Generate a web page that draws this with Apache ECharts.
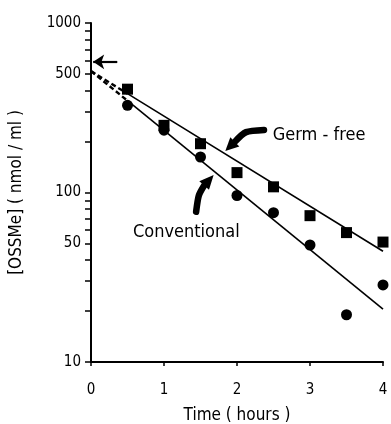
<!DOCTYPE html>
<html>
<head>
<meta charset="utf-8">
<script src="https://cdn.jsdelivr.net/npm/echarts@6/dist/echarts.min.js"></script>
<style>
html,body{margin:0;padding:0;background:#fff;}
#c{width:391px;height:424px;}
</style>
</head>
<body>
<div id="c"></div>
<script>
// ---- data ----
const times = [0.5, 1, 1.5, 2, 2.5, 3, 3.5, 4];
const germFree = [407, 249, 194, 131, 108, 73, 58, 51];
const conventional = [327, 233, 162, 96, 76, 49, 19, 28.5];
const fitTimes = [0, 0.5, 4];
const germFit = [520, 383, 45];
const convFit = [520, 348, 20.5];
const xTicks = [0, 1, 2, 3, 4];
const yLabels = [10, 50, 100, 500, 1000];
const yTicks = [10, 20, 30, 40, 50, 60, 70, 80, 90, 100, 200, 300, 400, 500, 600, 700, 800, 900, 1000];
const arrowValue = 590;
const arrowFrom = 0.36, arrowTo = 0.03;
// annotation anchors (data coords)
const germLabel = { text: 'Germ - free', x: 2.49, y: 218 };
const convLabel = { text: 'Conventional', x: 0.575, y: 58.5 };

const FONT = '"DejaVu Sans Condensed", "DejaVu Sans", sans-serif';

function pairs(xs, ys) { return xs.map((x, i) => [x, ys[i]]); }

const chart = echarts.init(document.getElementById('c'), null, { renderer: 'canvas' });

const option = {
  animation: false,
  backgroundColor: '#fff',
  grid: { left: 91, right: 8, top: 23, bottom: 62, containLabel: false, outerBoundsMode: 'none' },
  xAxis: {
    type: 'value', min: 0, max: 4, interval: 1,
    name: 'Time ( hours )', nameLocation: 'middle', nameGap: 45,
    nameTextStyle: { fontFamily: FONT, fontSize: 17, color: '#000' },
    axisLine: { lineStyle: { color: '#000', width: 2 } },
    axisTick: { show: true, length: 4, lineStyle: { color: '#000', width: 1.5 } },
    axisLabel: { fontFamily: FONT, fontSize: 15, color: '#000', margin: 21,
      customValues: xTicks, formatter: v => String(v) },
    splitLine: { show: false }
  },
  yAxis: {
    type: 'log', logBase: 10, min: 10, max: 1000,
    name: '[OSSMe] ( nmol / ml )', nameLocation: 'middle', nameGap: 66, nameRotate: 90,
    nameTextStyle: { fontFamily: FONT, fontSize: 17, color: '#000' },
    axisLine: { lineStyle: { color: '#000', width: 2 } },
    axisTick: { show: true, length: 6, customValues: yTicks, lineStyle: { color: '#000', width: 1.5 } },
    axisLabel: { fontFamily: FONT, fontSize: 15, color: '#000', margin: 10,
      customValues: yLabels, formatter: v => String(Math.round(v)) },
    splitLine: { show: false }, minorTick: { show: false }
  },
  series: [
    {
      name: 'Germ-free', type: 'scatter', symbol: 'rect', symbolSize: 11,
      itemStyle: { color: '#000', opacity: 1 }, data: pairs(times, germFree), z: 5
    },
    {
      name: 'Conventional', type: 'scatter', symbol: 'circle', symbolSize: 11,
      itemStyle: { color: '#000', opacity: 1 }, data: pairs(times, conventional), z: 5
    },
    {
      type: 'line', data: pairs(fitTimes.slice(1), germFit.slice(1)), symbol: 'none',
      lineStyle: { color: '#000', width: 1.6 }
    },
    {
      type: 'line', data: pairs(fitTimes.slice(1), convFit.slice(1)), symbol: 'none',
      lineStyle: { color: '#000', width: 1.6 }
    },
    {
      type: 'line', data: pairs(fitTimes.slice(0, 2), germFit.slice(0, 2)), symbol: 'none',
      lineStyle: { color: '#000', width: 2.4, type: [5, 3] }
    },
    {
      type: 'line', data: pairs(fitTimes.slice(0, 2), convFit.slice(0, 2)), symbol: 'none',
      lineStyle: { color: '#000', width: 2.4, type: [5, 3] },
      markLine: {
        silent: true, symbol: ['none', 'arrow'], symbolSize: 11,
        label: { show: false },
        lineStyle: { color: '#000', width: 2.2, type: 'solid' },
        data: [[{ coord: [arrowFrom, arrowValue] }, { coord: [arrowTo, arrowValue] }]]
      }
    }
  ]
};
chart.setOption(option);

function px(x, y) { return chart.convertToPixel({ gridIndex: 0 }, [x, y]); }

const gl = px(germLabel.x, germLabel.y);
const cl = px(convLabel.x, convLabel.y);

function arrowShapes(tail, ctrl, base, tip, w, lw) {
  const dx = tip[0] - base[0], dy = tip[1] - base[1];
  const len = Math.hypot(dx, dy);
  const nx = -dy / len, ny = dx / len;
  return [
    {
      type: 'bezierCurve',
      shape: { x1: tail[0], y1: tail[1], cpx1: ctrl[0], cpy1: ctrl[1], cpx2: ctrl[0], cpy2: ctrl[1], x2: base[0], y2: base[1] },
      style: { stroke: '#000', lineWidth: lw, fill: null, lineCap: 'round' }
    },
    {
      type: 'polygon',
      shape: { points: [[base[0] + nx * w, base[1] + ny * w], [tip[0], tip[1]], [base[0] - nx * w, base[1] - ny * w]] },
      style: { fill: '#000' }
    }
  ];
}

const gTail = px(2.37, 234), gCtrl = px(2.11, 231), gBase = px(1.97, 199), gTip = px(1.84, 176);
const cTail = px(1.44, 77), cCtrl = px(1.47, 97), cBase = px(1.55, 110), cTip = px(1.68, 127);

chart.setOption({
  graphic: [
    ...arrowShapes(gTail, gCtrl, gBase, gTip, 6.5, 6.5),
    ...arrowShapes(cTail, cCtrl, cBase, cTip, 6.5, 6.5),
    {
      type: 'text', x: gl[0], y: gl[1],
      style: { text: germLabel.text, font: '18px ' + FONT, fill: '#000', verticalAlign: 'middle', align: 'left' }
    },
    {
      type: 'text', x: cl[0], y: cl[1],
      style: { text: convLabel.text, font: '18px ' + FONT, fill: '#000', verticalAlign: 'middle', align: 'left' }
    }
  ]
});
</script>
</body>
</html>
